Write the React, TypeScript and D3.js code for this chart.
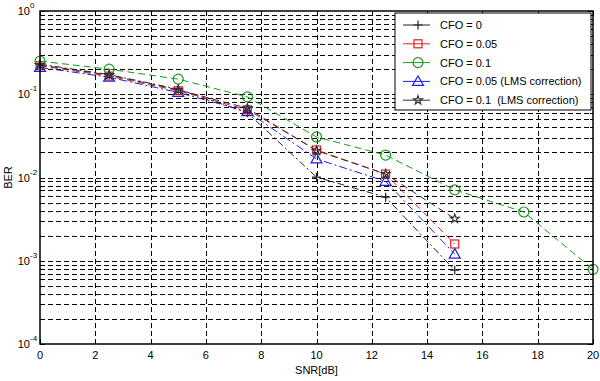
import React from "react";
import * as d3 from "d3";

const snr = [0, 2.5, 5, 7.5, 10, 12.5, 15];
const snrLong = [0, 2.5, 5, 7.5, 10, 12.5, 15, 17.5, 20];
const berCfo0 = [0.23, 0.172, 0.115, 0.06, 0.0101, 0.0058, 0.00077];
const berCfo005 = [0.22, 0.165, 0.11, 0.065, 0.0214, 0.011, 0.00159];
const berCfo01 = [0.25, 0.2, 0.152, 0.093, 0.0307, 0.0186, 0.0071, 0.00385, 0.00079];
const berCfo005Lms = [0.21, 0.16, 0.105, 0.062, 0.0167, 0.009, 0.0012];
const berCfo01Lms = [0.225, 0.17, 0.113, 0.068, 0.021, 0.011, 0.0032];
const xTicks = [0, 2, 4, 6, 8, 10, 12, 14, 16, 18, 20];
const yExps = [0, -1, -2, -3, -4];
const legendLabels = [
  "CFO = 0",
  "CFO = 0.05",
  "CFO = 0.1",
  "CFO = 0.05 (LMS correction)",
  "CFO = 0.1\u00a0\u00a0(LMS correction)",
];

type Series = { x: number[]; y: number[]; color: string; dash: string; marker: string };

const series: Series[] = [
  { x: snr, y: berCfo0, color: "#222", dash: "7,3,2,3", marker: "plus" },
  { x: snr, y: berCfo005, color: "#e02020", dash: "7,4", marker: "square" },
  { x: snrLong, y: berCfo01, color: "#1a9a1a", dash: "7,4", marker: "circle" },
  { x: snr, y: berCfo005Lms, color: "#2020e0", dash: "8,3,2,3", marker: "triangle" },
  { x: snr, y: berCfo01Lms, color: "#333", dash: "7,4", marker: "star" },
];

function Marker({ kind, x, y, color }: { kind: string; x: number; y: number; color: string }) {
  const s = 4.5;
  if (kind === "plus")
    return (
      <path d={`M${x - s},${y}H${x + s}M${x},${y - s}V${y + s}`} stroke={color} strokeWidth={1.2} fill="none" />
    );
  if (kind === "square")
    return <rect x={x - 4} y={y - 4} width={8} height={8} stroke={color} strokeWidth={1.2} fill="none" />;
  if (kind === "circle") return <circle cx={x} cy={y} r={5} stroke={color} strokeWidth={1.2} fill="none" />;
  if (kind === "triangle")
    return (
      <path d={`M${x},${y - 5.5}L${x + 5.5},${y + 4}L${x - 5.5},${y + 4}Z`} stroke={color} strokeWidth={1.2} fill="none" />
    );
  const star = d3.symbol(d3.symbolStar, 24)() as string;
  return <path d={star} transform={`translate(${x},${y})`} stroke={color} strokeWidth={1.2} fill="none" />;
}

export default function App() {
  const W = 600;
  const H = 381;
  const left = 40;
  const right = 593;
  const top = 11;
  const bottom = 344;
  const x = d3.scaleLinear().domain([0, 20]).range([left, right]);
  const y = d3.scaleLog().domain([1e-4, 1]).range([bottom, top]);

  const minors: number[] = [];
  for (let e = -4; e < 0; e++) for (let m = 2; m <= 9; m++) minors.push(m * Math.pow(10, e));

  const line = d3
    .line<[number, number]>()
    .x((d) => x(d[0]))
    .y((d) => y(d[1]));

  const font = "'Liberation Sans', Arial, sans-serif";
  const grid = "5,3";
  const snap = (v: number) => Math.round(v) + 0.5;

  return (
    <div style={{ position: "absolute", left: 0, top: 0 }}>
      <svg width={W} height={H} style={{ display: "block", background: "#fff" }} fontFamily={font}>
        <rect x={0} y={0} width={W} height={H} fill="#fff" />
        {/* grid */}
        {minors.map((v, i) => (
          <line key={"m" + i} x1={left} x2={right} y1={snap(y(v))} y2={snap(y(v))} stroke="#000" strokeWidth={1} strokeDasharray={grid} />
        ))}
        {yExps.slice(1, 4).map((e) => (
          <line key={"M" + e} x1={left} x2={right} y1={snap(y(Math.pow(10, e)))} y2={snap(y(Math.pow(10, e)))} stroke="#000" strokeWidth={1} strokeDasharray={grid} />
        ))}
        {xTicks.slice(1, -1).map((t) => (
          <line key={"v" + t} x1={snap(x(t))} x2={snap(x(t))} y1={top} y2={bottom} stroke="#000" strokeWidth={1} strokeDasharray={grid} />
        ))}
        {/* ticks */}
        {xTicks.map((t) => (
          <g key={"xt" + t}>
            <line x1={snap(x(t))} x2={snap(x(t))} y1={bottom} y2={bottom - 5} stroke="#000" />
            <line x1={snap(x(t))} x2={snap(x(t))} y1={top} y2={top + 5} stroke="#000" />
            <text x={x(t)} y={bottom + 15} fontSize={11} textAnchor="middle" fill="#000">
              {t}
            </text>
          </g>
        ))}
        {minors.map((v, i) => (
          <g key={"mt" + i}>
            <line x1={left} x2={left + 3} y1={snap(y(v))} y2={snap(y(v))} stroke="#000" />
            <line x1={right} x2={right - 3} y1={snap(y(v))} y2={snap(y(v))} stroke="#000" />
          </g>
        ))}
        {yExps.map((e) => (
          <g key={"yt" + e}>
            <line x1={left} x2={left + 5} y1={snap(y(Math.pow(10, e)))} y2={snap(y(Math.pow(10, e)))} stroke="#000" />
            <line x1={right} x2={right - 5} y1={snap(y(Math.pow(10, e)))} y2={snap(y(Math.pow(10, e)))} stroke="#000" />
            <text x={30} y={y(Math.pow(10, e)) + 4} fontSize={11} textAnchor="end" fill="#000">
              10
            </text>
            <text x={30} y={y(Math.pow(10, e)) - 3} fontSize={8} textAnchor="start" fill="#000">
              {e}
            </text>
          </g>
        ))}
        {/* series */}
        {series.map((s, i) => {
          const pts = s.x.map((v, j) => [v, s.y[j]] as [number, number]);
          return (
            <g key={"s" + i}>
              <path d={line(pts) as string} fill="none" stroke={s.color} strokeWidth={1} strokeDasharray={s.dash} />
              {pts.map((p, j) => (
                <Marker key={j} kind={s.marker} x={x(p[0])} y={y(p[1])} color={s.color} />
              ))}
            </g>
          );
        })}
        {/* axes box */}
        <rect x={left} y={top} width={right - left} height={bottom - top} fill="none" stroke="#000" strokeWidth={1.5} />
        {/* labels */}
        <text x={(left + right) / 2} y={374} fontSize={11} textAnchor="middle" fill="#000">
          SNR[dB]
        </text>
        <text transform={`translate(12,${(top + bottom) / 2}) rotate(-90)`} fontSize={11} textAnchor="middle" fill="#000">
          BER
        </text>
        {/* legend */}
        <rect x={395} y={13} width={196} height={97} fill="#fff" stroke="#000" strokeWidth={1} />
        {series.map((s, i) => {
          const ly = 25 + i * 18.8;
          return (
            <g key={"l" + i}>
              <line x1={403} x2={430} y1={ly} y2={ly} stroke={s.color} strokeWidth={1} />
              <Marker kind={s.marker} x={418} y={ly} color={s.color} />
              <text x={440} y={ly + 4} fontSize={11} fill="#000">
                {legendLabels[i]}
              </text>
            </g>
          );
        })}
      </svg>
    </div>
  );
}
